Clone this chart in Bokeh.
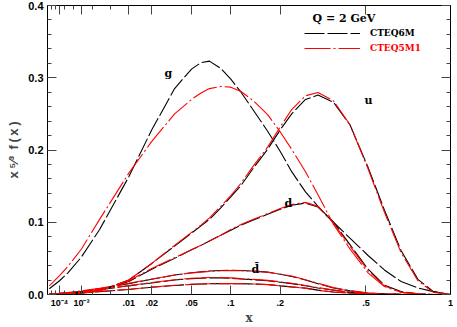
import numpy as np
from bokeh.plotting import figure
from bokeh.models import (Range1d, FixedTicker, LinearAxis, Label, Legend, LegendItem,
                          CustomLabelingPolicy)
from bokeh.embed import file_html
from bokeh.resources import INLINE

# ---------------- data ----------------
x_grid = [1e-5, 1e-4, 3e-4, 1e-3, 3e-3, 0.01, 0.02, 0.035, 0.05, 0.06, 0.07, 0.085,
          0.1, 0.117, 0.14, 0.17, 0.2, 0.23, 0.27, 0.31, 0.365, 0.43, 0.51, 0.59,
          0.68, 0.78, 0.88, 1.0]

g_cteq6m = [0.008, 0.019, 0.030, 0.052, 0.090, 0.163, 0.228, 0.285, 0.312, 0.321, 0.323, 0.313,
            0.298, 0.280, 0.255, 0.226, 0.198, 0.170, 0.142, 0.122, 0.100, 0.078, 0.054, 0.034,
            0.018, 0.009, 0.004, 0.0]
g_cteq5m1 = [0.012, 0.026, 0.039, 0.063, 0.104, 0.168, 0.212, 0.250, 0.270, 0.279, 0.285, 0.288,
             0.287, 0.281, 0.268, 0.249, 0.225, 0.201, 0.170, 0.138, 0.097, 0.063, 0.030, 0.011,
             0.003, 0.0008, 0.0001, 0.0]
u_cteq6m = [0.0002, 0.0005, 0.001, 0.002, 0.005, 0.020, 0.043, 0.067, 0.085, 0.095, 0.104, 0.120,
            0.135, 0.151, 0.175, 0.201, 0.228, 0.250, 0.270, 0.276, 0.266, 0.235, 0.176, 0.117,
            0.061, 0.021, 0.004, 0.0]
u_cteq5m1 = [0.0002, 0.0005, 0.001, 0.002, 0.005, 0.020, 0.043, 0.068, 0.086, 0.096, 0.106, 0.122,
             0.137, 0.154, 0.178, 0.204, 0.232, 0.256, 0.275, 0.2795, 0.268, 0.235, 0.174, 0.114,
             0.058, 0.019, 0.003, 0.0]
d_cteq6m = [0.0003, 0.0008, 0.0015, 0.003, 0.006, 0.018, 0.035, 0.050, 0.062, 0.068, 0.074, 0.082,
            0.089, 0.096, 0.103, 0.111, 0.118, 0.1235, 0.1265, 0.121, 0.100, 0.069, 0.035, 0.013,
            0.004, 0.001, 0.0001, 0.0]
d_cteq5m1 = [0.0003, 0.0008, 0.0015, 0.003, 0.006, 0.019, 0.036, 0.051, 0.062, 0.068, 0.074, 0.082,
             0.090, 0.097, 0.104, 0.112, 0.119, 0.1245, 0.1275, 0.122, 0.099, 0.067, 0.033, 0.012,
             0.003, 0.0008, 0.0001, 0.0]
dbar_cteq6m = [0.0005, 0.0015, 0.0025, 0.0045, 0.008, 0.015, 0.021, 0.027, 0.030, 0.0315, 0.0325, 0.0333,
               0.0335, 0.0333, 0.0325, 0.031, 0.028, 0.025, 0.020, 0.015, 0.009, 0.005, 0.002, 0.0008,
               0.0002, 0.0, 0.0, 0.0]
dbar_cteq5m1 = [0.0006, 0.0017, 0.0028, 0.005, 0.0085, 0.0155, 0.0215, 0.027, 0.0298, 0.031, 0.032, 0.0328,
                0.033, 0.0329, 0.0322, 0.0308, 0.0282, 0.0255, 0.0205, 0.0155, 0.0095, 0.0052, 0.0021, 0.0008,
                0.0002, 0.0, 0.0, 0.0]
ubar_cteq6m = [0.0004, 0.0012, 0.002, 0.0035, 0.0065, 0.012, 0.016, 0.020, 0.022, 0.0225, 0.023, 0.023,
               0.0225, 0.0215, 0.0205, 0.019, 0.017, 0.015, 0.012, 0.009, 0.006, 0.003, 0.0015, 0.0005,
               0.0001, 0.0, 0.0, 0.0]
ubar_cteq5m1 = [0.0005, 0.0014, 0.0023, 0.004, 0.007, 0.0125, 0.0165, 0.0205, 0.0225, 0.023, 0.0235, 0.0235,
                0.023, 0.022, 0.021, 0.0195, 0.0175, 0.0155, 0.0125, 0.0095, 0.0062, 0.0032, 0.0015, 0.0005,
                0.0001, 0.0, 0.0, 0.0]
s_cteq6m = [0.0003, 0.0008, 0.0013, 0.0022, 0.004, 0.007, 0.010, 0.0125, 0.014, 0.0145, 0.0148, 0.015,
            0.015, 0.015, 0.0145, 0.0138, 0.012, 0.0105, 0.0088, 0.006, 0.0035, 0.002, 0.001, 0.0003,
            0.0001, 0.0, 0.0, 0.0]
s_cteq5m1 = [0.0003, 0.0009, 0.0014, 0.0024, 0.0042, 0.0072, 0.0102, 0.0127, 0.0141, 0.0146, 0.0149, 0.0151,
             0.0151, 0.015, 0.0145, 0.0137, 0.0119, 0.0104, 0.0086, 0.0058, 0.0034, 0.0019, 0.0009, 0.0003,
             0.0001, 0.0, 0.0, 0.0]

x_tick_values = [1e-4, 1e-3, 0.01, 0.02, 0.05, 0.1, 0.2, 0.5, 1.0]
x_tick_labels = ["10\u207b\u2074", "10\u207b\u00b3", ".01", ".02", ".05", ".1", ".2", ".5", "1"]
x_minor_values = [2e-5, 5e-5, 2e-4, 5e-4, 2e-3, 5e-3]
y_tick_values = [0.0, 0.1, 0.2, 0.3, 0.4]
y_tick_labels = ["0.0", "0.1", "0.2", "0.3", "0.4"]
y_minor_values = [0.02, 0.04, 0.06, 0.08, 0.12, 0.14, 0.16, 0.18, 0.22, 0.24, 0.26, 0.28,
                  0.32, 0.34, 0.36, 0.38]

x_min = 5e-6  # left edge of the x axis


def tr(v):
    """x axis is drawn on an x^(1/3) scale"""
    return np.round(np.cbrt(np.asarray(v, dtype=float)), 6)


BLACK = "#000000"
RED = "#ff0000"
DASH6 = "20 3"
DASH5 = "26 3 2 3"
SANS = "Liberation Sans"
SERIF = "DejaVu Serif"

p = figure(width=457, height=327, output_backend="svg", toolbar_location=None,
           x_range=Range1d(float(tr(x_min)), 1.0), y_range=Range1d(0.0, 0.4),
           min_border_left=47, min_border_right=7, min_border_top=5, min_border_bottom=31)
p.xgrid.visible = False
p.ygrid.visible = False
p.outline_line_color = BLACK
p.background_fill_color = "white"
p.border_fill_color = "white"

tx = tr(x_grid)
series = [
    (g_cteq6m, BLACK, DASH6), (u_cteq6m, BLACK, DASH6), (d_cteq6m, BLACK, DASH6),
    (dbar_cteq6m, BLACK, DASH6), (ubar_cteq6m, BLACK, DASH6), (s_cteq6m, BLACK, DASH6),
    (g_cteq5m1, RED, DASH5), (u_cteq5m1, RED, DASH5), (d_cteq5m1, RED, DASH5),
    (dbar_cteq5m1, RED, DASH5), (ubar_cteq5m1, RED, DASH5), (s_cteq5m1, RED, DASH5),
]
rends = []
for ys, col, dash in series:
    rends.append(p.line(tx, ys, line_color=col, line_width=1.1, line_dash=dash))

# ----- axes -----
xt = FixedTicker(ticks=list(tr(x_tick_values)), minor_ticks=list(tr(x_minor_values)))
yt = FixedTicker(ticks=y_tick_values, minor_ticks=y_minor_values)
x_over = {float(k): lab for k, lab in zip(tr(x_tick_values), x_tick_labels)}
y_over = {k: lab for k, lab in zip(y_tick_values, y_tick_labels)}


def style(ax, show_labels):
    ax.axis_line_color = BLACK
    ax.major_tick_line_color = "#444444"
    ax.minor_tick_line_color = "#444444"
    ax.major_tick_in = 9
    ax.major_tick_out = 0
    ax.minor_tick_in = 4
    ax.minor_tick_out = 0
    if show_labels:
        ax.major_label_text_font = SANS
        ax.major_label_text_font_style = "bold"
        ax.major_label_text_color = BLACK
    else:
        ax.major_label_text_font_size = "0px"
        ax.major_label_standoff = 0
        ax.major_label_policy = CustomLabelingPolicy(code="return []")


xa = p.xaxis[0]
xa.ticker = xt
xa.major_label_overrides = x_over
style(xa, True)
xa.major_label_text_font_size = "9px"
xa.major_label_standoff = 3
xa.axis_label = "x"
xa.axis_label_text_font = SERIF
xa.axis_label_text_font_style = "bold"
xa.axis_label_text_font_size = "12px"
xa.axis_label_standoff = 0

ya = p.yaxis[0]
ya.ticker = yt
ya.major_label_overrides = y_over
style(ya, True)
ya.major_label_text_font_size = "11px"
ya.major_label_standoff = 4
ya.axis_label = "x\u2009\u2075\u2044\u00b3\u2002f\u2009(\u2009x\u2009)"
ya.axis_label_text_font = SANS
ya.axis_label_text_font_style = "bold"
ya.axis_label_text_font_size = "13px"
ya.axis_label_standoff = 4

ra = LinearAxis(ticker=yt)
style(ra, False)
p.add_layout(ra, "right")
ta = LinearAxis(ticker=xt)
style(ta, False)
p.add_layout(ta, "above")

# ----- legend -----
leg_common = dict(glyph_width=56, glyph_height=12, label_height=12, label_standoff=10,
                  padding=0, spacing=0, margin=0, background_fill_alpha=0,
                  border_line_alpha=0, label_text_font=SERIF, label_text_font_style="bold",
                  label_text_font_size="9px")
leg1 = Legend(items=[LegendItem(label="CTEQ6M", renderers=[rends[0]])],
              location=(257, 255), label_text_color=BLACK, **leg_common)
leg2 = Legend(items=[LegendItem(label="CTEQ5M1", renderers=[rends[6]])],
              location=(257, 240), label_text_color=RED, **leg_common)
p.add_layout(leg1)
p.add_layout(leg2)

p.add_layout(Label(x=265, y=276, x_units="screen", y_units="screen", text="Q = 2 GeV",
                   text_font=SERIF, text_font_style="bold", text_font_size="11px",
                   text_align="left", text_baseline="middle", text_color=BLACK))

# ----- curve labels (data coordinates, baseline position) -----
curve_labels = [("g", 0.0304, 0.3065), ("u", 0.512, 0.269), ("d", 0.221, 0.1265),
                ("d\u0304", 0.144, 0.0344)]
for txt, lx, ly in curve_labels:
    p.add_layout(Label(x=float(tr(lx)), y=ly, text=txt, text_font=SERIF,
                       text_font_style="bold", text_font_size="11px",
                       text_align="center", text_baseline="alphabetic", text_color=BLACK))

open("out.html", "w").write(file_html(p, INLINE))
